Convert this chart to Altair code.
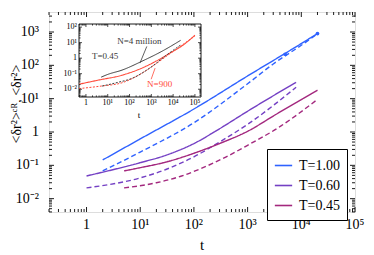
import altair as alt
import pandas as pd

SERIF = "Liberation Serif, Times New Roman, serif"

# ---------------- main panel data ----------------
T_LABELS = ["T=1.00", "T=0.60", "T=0.45"]
COLORS = ["#2f62ff", "#7440c4", "#a3287e"]

t_100_cr = [2, 10, 100, 1000, 10000, 20000]
y_100_cr = [0.145, 0.62, 4.9, 48, 450, 900]
t_100 = [2, 10, 100, 1000, 3000, 10000, 20000]
y_100 = [0.068, 0.25, 1.9, 28, 110, 400, 880]
t_060_cr = [1, 10, 30, 100, 300, 1000, 8000]
y_060_cr = [0.048, 0.12, 0.2, 0.45, 1.25, 4.2, 31]
t_060 = [1, 10, 30, 100, 300, 1000, 8000]
y_060 = [0.021, 0.042, 0.075, 0.18, 0.5, 1.7, 22]
t_045_cr = [5, 10, 30, 100, 300, 1000, 3300, 20000]
y_045_cr = [0.068, 0.085, 0.125, 0.23, 0.45, 1.05, 3.3, 18]
t_045 = [5, 20, 57, 135, 400, 1000, 3600, 20000]
y_045 = [0.021, 0.03, 0.047, 0.08, 0.18, 0.4, 1.3, 9.5]
marker_t = [5000, 20000]
marker_y = [215, 900]

# ---------------- inset data (T=0.45) ----------------
in_t_big_cr = [5, 10, 45, 375, 3100, 22000]
in_y_big_cr = [0.06, 0.09, 0.17, 0.64, 2.8, 14]
in_t_big = [5.5, 30, 130, 1100, 4300, 22000]
in_y_big = [0.016, 0.028, 0.05, 0.3, 1.35, 7]
in_t_900_cr = [0.48, 3.5, 45, 375, 1500, 5900, 29000, 100000]
in_y_900_cr = [0.021, 0.038, 0.08, 0.23, 0.6, 1.8, 7, 30]
in_t_900 = [0.48, 5, 45, 375, 1500, 5900, 100000]
in_y_900 = [0.011, 0.016, 0.026, 0.11, 0.4, 1.6, 27]

# ---------------- axes ----------------
X_DOM = [0.2, 1e5]
Y_DOM = [10 ** -2.4, 10 ** 3.6]
X_MAJ = [1, 10, 100, 1000, 10000, 100000]
Y_MAJ = [0.01, 0.1, 1, 10, 100, 1000]
IX_DOM = [0.48, 1.9e5]
IY_DOM = [10 ** -2.5, 10 ** 2.2]
IX_MAJ = [1, 10, 100, 1000, 10000, 100000]
IY_MAJ = [0.01, 0.1, 1, 10, 100]
X_LAB = ["1", "10¹", "10²", "10³", "10⁴", "10⁵"]
Y_LAB = ["10⁻²", "10⁻¹", "1", "10¹", "10²", "10³"]
IY_LAB = ["10⁻²", "10⁻¹", "1", "10¹", "10²"]
X_TITLE = "t"
Y_TITLE = "<δr²>ᶜᴿ, <δr²>"

W, H = 306, 200
IN_BOX = (30, 152, 12, 85)  # left, right, top, bottom (inset pixel range)


def minors(dom, exps):
    out = []
    for e in exps:
        for k in range(2, 10):
            v = k * 10 ** e
            if dom[0] <= v <= dom[1]:
                out.append(v)
    return out


xs = alt.Scale(type="log", domain=X_DOM, nice=False)
ys = alt.Scale(type="log", domain=Y_DOM, nice=False)
ixs = alt.Scale(type="log", domain=IX_DOM, nice=False, range=[IN_BOX[0], IN_BOX[1]])
iys = alt.Scale(type="log", domain=IY_DOM, nice=False, range=[IN_BOX[3], IN_BOX[2]])


def tick_layers(xmaj, xmin, ymaj, ymin, xsc, ysc, box, lmaj, lmin, sw):
    left, right, top, bottom = box
    layers = []
    for vals, L in ((xmaj, lmaj), (xmin, lmin)):
        d = pd.DataFrame({"v": vals})
        b = alt.Chart(d).mark_rule(color="black", strokeWidth=sw)
        layers.append(b.encode(x=alt.X("v:Q", scale=xsc, axis=None),
                               y=alt.value(bottom), y2=alt.value(bottom - L)))
        layers.append(b.encode(x=alt.X("v:Q", scale=xsc, axis=None),
                               y=alt.value(top), y2=alt.value(top + L)))
    for vals, L in ((ymaj, lmaj), (ymin, lmin)):
        d = pd.DataFrame({"v": vals})
        b = alt.Chart(d).mark_rule(color="black", strokeWidth=sw)
        layers.append(b.encode(y=alt.Y("v:Q", scale=ysc, axis=None),
                               x=alt.value(left), x2=alt.value(left + L)))
        layers.append(b.encode(y=alt.Y("v:Q", scale=ysc, axis=None),
                               x=alt.value(right), x2=alt.value(right - L)))
    return layers


# ---------------- main lines ----------------
rows = []
series = [
    ("T=1.00", "CR", t_100_cr, y_100_cr),
    ("T=1.00", "std", t_100, y_100),
    ("T=0.60", "CR", t_060_cr, y_060_cr),
    ("T=0.60", "std", t_060, y_060),
    ("T=0.45", "CR", t_045_cr, y_045_cr),
    ("T=0.45", "std", t_045, y_045),
]
for T, kind, ts, yv in series:
    for t, y in zip(ts, yv):
        rows.append({"t": t, "y": y, "T": T, "kind": kind, "s": T + kind})
df = pd.DataFrame(rows)

lines = alt.Chart(df).mark_line(strokeWidth=1.4, interpolate="monotone").encode(
    x=alt.X("t:Q", scale=xs, axis=None),
    y=alt.Y("y:Q", scale=ys, axis=None),
    color=alt.Color("T:N", scale=alt.Scale(domain=T_LABELS, range=COLORS), legend=alt.Legend(
        title=None, orient="none", legendX=218, legendY=137, direction="vertical",
        strokeColor="black", fillColor="white", padding=7, symbolType="stroke",
        symbolStrokeWidth=1.6, symbolSize=300, labelFont=SERIF, labelFontSize=14,
        labelColor="black", rowPadding=3, labelOffset=6)),
    strokeDash=alt.StrokeDash("kind:N", scale=alt.Scale(domain=["CR", "std"], range=[[1, 0], [5, 3]]),
                              legend=None),
    detail="s:N",
)

markers = alt.Chart(pd.DataFrame({"t": marker_t, "y": marker_y})).mark_circle(
    size=14, color=COLORS[0], opacity=1).encode(
    x=alt.X("t:Q", scale=xs, axis=None), y=alt.Y("y:Q", scale=ys, axis=None))

main_ticks = tick_layers(X_MAJ, minors(X_DOM, range(-1, 5)), Y_MAJ, minors(Y_DOM, range(-3, 4)),
                         xs, ys, (0, W, 0, H), 5, 3, 0.9)

xlab = alt.Chart(pd.DataFrame({"v": X_MAJ, "lab": X_LAB})).mark_text(
    font=SERIF, fontSize=14, baseline="top", color="black").encode(
    x=alt.X("v:Q", scale=xs, axis=None), y=alt.value(H + 6), text="lab:N")
ylab = alt.Chart(pd.DataFrame({"v": Y_MAJ, "lab": Y_LAB})).mark_text(
    font=SERIF, fontSize=14, align="right", baseline="middle", color="black").encode(
    y=alt.Y("v:Q", scale=ys, axis=None), x=alt.value(-10), text="lab:N")
xtitle = alt.Chart(pd.DataFrame({"lab": [X_TITLE]})).mark_text(
    font=SERIF, fontSize=15, baseline="middle", color="black").encode(
    x=alt.value(W / 2), y=alt.value(H + 33), text="lab:N")
ytitle = alt.Chart(pd.DataFrame({"lab": [Y_TITLE]})).mark_text(
    font=SERIF, fontSize=14, baseline="middle", angle=270, color="black").encode(
    x=alt.value(-32), y=alt.value(H / 2 - 8), text="lab:N")

main = alt.layer(lines, markers, *main_ticks, xlab, ylab, xtitle, ytitle)

# ---------------- inset ----------------
frame_df = pd.DataFrame({"x0": [IX_DOM[0]], "x1": [IX_DOM[1]], "y0": [IY_DOM[0]], "y1": [IY_DOM[1]]})
frame = alt.Chart(frame_df).mark_rect(fill="white", stroke="black", strokeWidth=0.9).encode(
    x=alt.X("x0:Q", scale=ixs, axis=None), x2="x1:Q",
    y=alt.Y("y0:Q", scale=iys, axis=None), y2="y1:Q")


def inset_line(ts, yv, color, dash, sw=1.0):
    d = pd.DataFrame({"t": ts, "y": yv})
    return alt.Chart(d).mark_line(color=color, strokeWidth=sw, strokeDash=dash,
                                  interpolate="monotone").encode(
        x=alt.X("t:Q", scale=ixs, axis=None), y=alt.Y("y:Q", scale=iys, axis=None))


RED = "#ff4a3a"
DARK = "#3a3a3a"
in_lines = [
    inset_line(in_t_900_cr, in_y_900_cr, RED, [1, 0], 1.1),
    inset_line(in_t_900, in_y_900, RED, [2, 1.5], 1.0),
    inset_line(in_t_big_cr, in_y_big_cr, DARK, [1, 0], 1.0),
    inset_line(in_t_big, in_y_big, DARK, [2, 1.5], 1.0),
]

in_ticks = tick_layers(IX_MAJ, minors(IX_DOM, range(-1, 6)), IY_MAJ, minors(IY_DOM, range(-3, 3)),
                       ixs, iys, IN_BOX, 3, 1.6, 0.7)

ixlab = alt.Chart(pd.DataFrame({"v": IX_MAJ, "lab": X_LAB})).mark_text(
    font=SERIF, fontSize=8, baseline="top", color="black").encode(
    x=alt.X("v:Q", scale=ixs, axis=None), y=alt.value(IN_BOX[3] + 2), text="lab:N")
iylab = alt.Chart(pd.DataFrame({"v": IY_MAJ, "lab": IY_LAB})).mark_text(
    font=SERIF, fontSize=8, align="right", baseline="middle", color="black").encode(
    y=alt.Y("v:Q", scale=iys, axis=None), x=alt.value(IN_BOX[0] - 2), text="lab:N")
ititle = alt.Chart(pd.DataFrame({"v": [270], "lab": ["t"]})).mark_text(
    font=SERIF, fontSize=9, baseline="top", color="black").encode(
    x=alt.X("v:Q", scale=ixs, axis=None), y=alt.value(IN_BOX[3] + 14), text="lab:N")

ann_df = pd.DataFrame({
    "t": [27, 1.9, 640],
    "y": [12.5, 1.35, 0.021],
    "lab": ["N=4 million", "T=0.45", "N=900"],
    "c": [DARK, DARK, RED],
})
ann = alt.Chart(ann_df).mark_text(font=SERIF, fontSize=9, align="left", baseline="middle").encode(
    x=alt.X("t:Q", scale=ixs, axis=None), y=alt.Y("y:Q", scale=iys, axis=None),
    text="lab:N", color=alt.Color("c:N", scale=None))

ptr_df = pd.DataFrame({
    "t0": [620, 980], "t1": [300, 1490],
    "y0": [5.7, 0.044], "y1": [0.48, 0.23],
    "c": [DARK, RED],
})
ptr = alt.Chart(ptr_df).mark_rule(strokeWidth=0.8).encode(
    x=alt.X("t0:Q", scale=ixs, axis=None), x2="t1:Q",
    y=alt.Y("y0:Q", scale=iys, axis=None), y2="y1:Q",
    color=alt.Color("c:N", scale=None))

inset = alt.layer(frame, *in_lines, *in_ticks, ixlab, iylab, ititle, ann, ptr)

chart = alt.layer(main, inset).resolve_scale(
    x="independent", y="independent", color="independent"
).properties(
    width=W, height=H,
    autosize=alt.AutoSizeParams(type="none"),
    padding={"left": 41, "top": 4, "right": 10, "bottom": 43},
).configure_view(stroke="black", strokeWidth=1).configure(background="white")

chart.save("out.html", embed_options={"renderer": "svg", "actions": False})
